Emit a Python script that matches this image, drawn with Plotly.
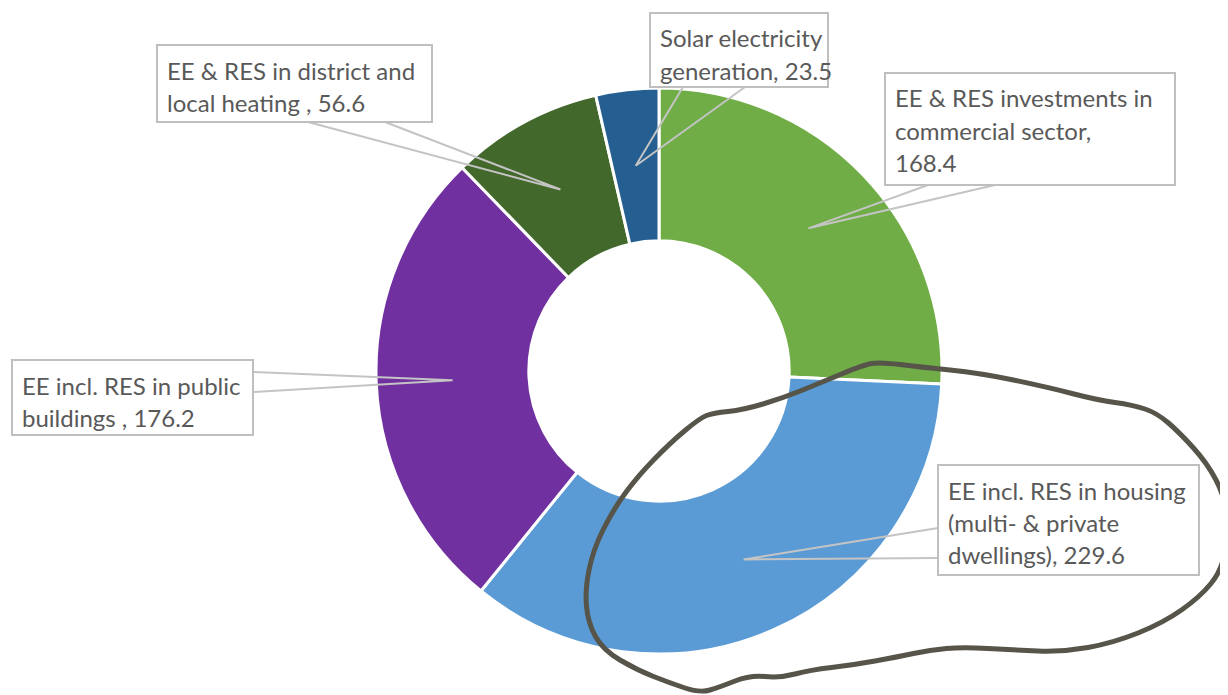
import math
import plotly.graph_objects as go

W, H = 1228, 695
OFF = 8  # page body margin

# slices, clockwise from 12 o'clock
sectors = ["EE & RES investments in commercial sector",
           "EE incl. RES in housing (multi- & private dwellings)",
           "EE incl. RES in public buildings",
           "EE & RES in district and local heating",
           "Solar electricity generation"]
values = [168.4, 229.6, 176.2, 56.6, 23.5]
colors = ["#70AD47", "#5B9BD5", "#7030A0", "#43682B", "#255E91"]
label_heads = [["EE & RES investments in", "commercial sector,", ""],
               ["EE incl. RES in housing", "(multi- & private", "dwellings), "],
               ["EE incl. RES in public", "buildings , "],
               ["EE & RES in district and", "local heating , "],
               ["Solar electricity", "generation, "]]

# donut geometry in page pixels
cx, cy, R = 659, 371, 283
hole = 0.46

# callout boxes (x0, y0, x1, y1) and the two points where the wedge meets the box
boxes = [(885, 73, 1175, 185), (938, 465, 1199, 575), (12, 360, 253, 435),
         (157, 45, 432, 122), (650, 13, 828, 87)]
wedge_base = [((928, 185), (995, 185)), ((938, 528), (938, 558)),
              ((253, 372), (253, 392)), ((308, 122), (385, 122)),
              ((683, 87), (745, 87))]

# hand drawn ring around the housing slice
scribble = [(880, 362), (920, 367), (980, 373), (1047, 387), (1097, 400), (1133, 405),
            (1157, 413), (1180, 433), (1207, 463), (1224, 495), (1229, 530), (1222, 570),
            (1200, 597), (1163, 623), (1113, 643), (1063, 652), (1013, 650), (963, 647),
            (930, 650), (897, 657), (853, 665), (810, 670), (780, 678), (750, 675),
            (720, 687), (700, 693), (670, 683), (637, 670), (603, 650), (588, 623),
            (585, 590), (593, 550), (613, 510), (637, 477), (670, 443), (700, 418),
            (713, 413), (743, 410), (783, 398), (820, 383), (863, 365)]

FW, FH = W - OFF, H - OFF


def px(x):
    return (x - OFF) / FW


def py(y):
    return 1 - (y - OFF) / FH


fig = go.Figure()
fig.add_trace(go.Pie(
    labels=sectors,
    values=values,
    sort=False,
    direction="clockwise",
    rotation=0,
    hole=hole,
    marker=dict(colors=colors, line=dict(color="white", width=3)),
    textinfo="none",
    hoverinfo="label+value",
    domain=dict(x=[px(cx - R), px(cx + R)], y=[py(cy + R), py(cy - R)]),
    showlegend=False,
))

shapes = []
annotations = []
total = sum(values)
start = 0.0
rm = R * (1 + hole) / 2
for i, v in enumerate(values):
    mid = (start + v / 2) / total * 2 * math.pi
    start += v
    ax = cx + rm * math.sin(mid)
    ay = cy - rm * math.cos(mid)
    (b1x, b1y), (b2x, b2y) = wedge_base[i]
    shapes.append(dict(
        type="path", xref="paper", yref="paper", layer="above",
        path=f"M {px(b1x)},{py(b1y)} L {px(ax)},{py(ay)} L {px(b2x)},{py(b2y)}",
        line=dict(color="#C4C4C4", width=2)))
    x0, y0, x1, y1 = boxes[i]
    shapes.append(dict(
        type="rect", xref="paper", yref="paper", layer="above",
        x0=px(x0), x1=px(x1), y0=py(y1), y1=py(y0),
        fillcolor="white", line=dict(color="#BFBFBF", width=2)))
    lines = list(label_heads[i])
    lines[-1] = lines[-1] + f"{v:.1f}"
    for j, t in enumerate(lines):
        annotations.append(dict(
            x=px(x0 + 8), y=py(y0 + 25 + 32 * j), xref="paper", yref="paper",
            xanchor="left", yanchor="middle", showarrow=False, text=t,
            font=dict(family="Lato", size=24, color="#595959")))

# smooth closed curve through the scribble points
n = len(scribble)
mids = [((scribble[k][0] + scribble[(k + 1) % n][0]) / 2,
         (scribble[k][1] + scribble[(k + 1) % n][1]) / 2) for k in range(n)]
path = f"M {px(mids[-1][0])},{py(mids[-1][1])}"
for k in range(n):
    path += f" Q {px(scribble[k][0])},{py(scribble[k][1])} {px(mids[k][0])},{py(mids[k][1])}"
path += " Z"
shapes.append(dict(type="path", xref="paper", yref="paper", layer="above", path=path,
                   line=dict(color="#57554A", width=5)))

fig.update_layout(
    width=FW, height=FH,
    margin=dict(l=0, r=0, t=0, b=0),
    paper_bgcolor="white",
    plot_bgcolor="white",
    shapes=shapes,
    annotations=annotations,
)
fig.write_html("out.html")
